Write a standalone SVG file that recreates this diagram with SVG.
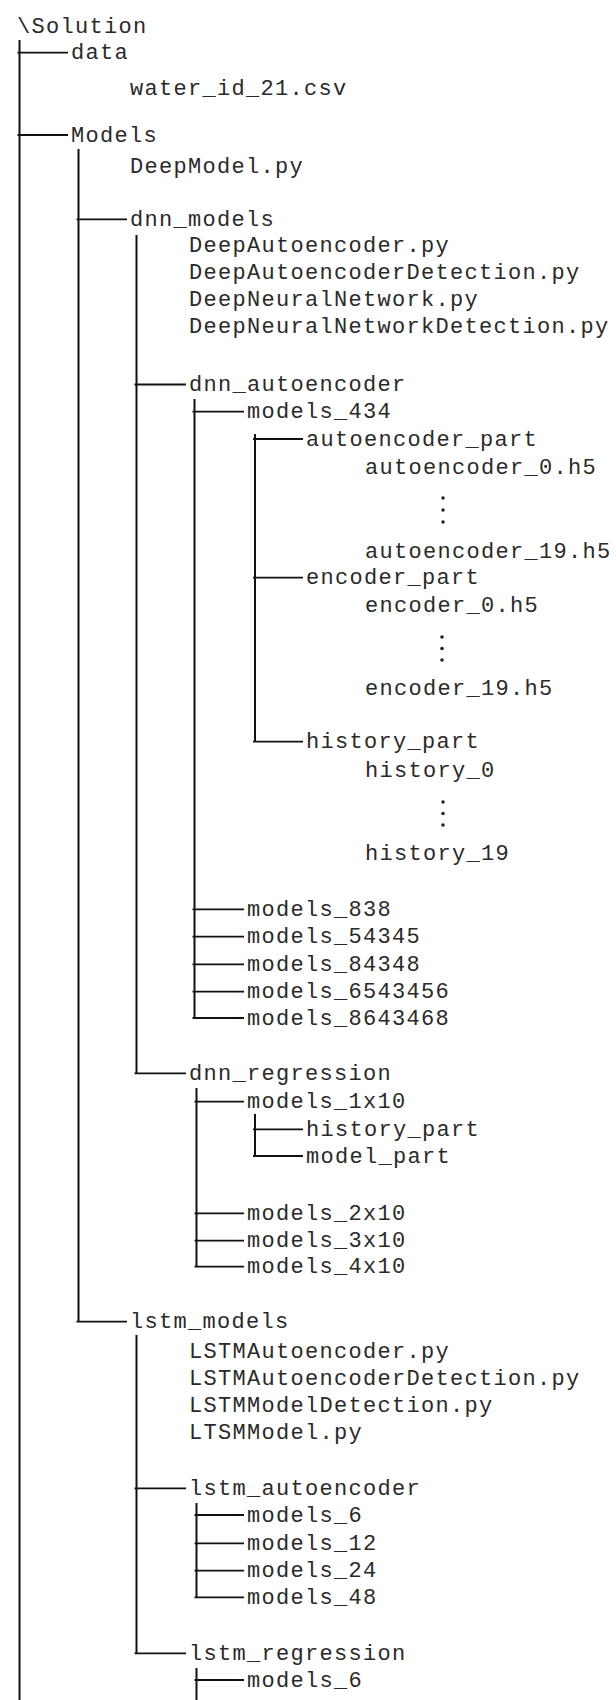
<svg xmlns="http://www.w3.org/2000/svg" width="616" height="1700" viewBox="0 0 616 1700">
<style>
.t{font-family:"Liberation Mono","Courier New",monospace;font-size:22px;letter-spacing:1.3px;fill:#2a2a2a}
.v{stroke:#111;stroke-width:2;fill:none}
.h{stroke:#111;stroke-width:1.8;fill:none}
.d{fill:#222}
</style>
<rect width="616" height="1700" fill="#fff"/>
<g id="connectors">
<line class="v" x1="19.5" y1="40" x2="19.5" y2="1700"/>
<line class="v" x1="78.5" y1="149" x2="78.5" y2="1322"/>
<line class="v" x1="136.5" y1="235" x2="136.5" y2="1073.5"/>
<line class="v" x1="194.5" y1="399" x2="194.5" y2="1018"/>
<line class="v" x1="255" y1="434" x2="255" y2="742"/>
<line class="v" x1="196.5" y1="1088" x2="196.5" y2="1267"/>
<line class="v" x1="255" y1="1114" x2="255" y2="1156"/>
<line class="v" x1="136.5" y1="1335" x2="136.5" y2="1653.5"/>
<line class="v" x1="196.5" y1="1503" x2="196.5" y2="1597.5"/>
<line class="v" x1="196.5" y1="1668" x2="196.5" y2="1700"/>
<line class="h" x1="17.5" y1="52.7" x2="68" y2="52.7"/>
<line class="h" x1="17.5" y1="135" x2="68" y2="135"/>
<line class="h" x1="76.5" y1="219.3" x2="127" y2="219.3"/>
<line class="h" x1="134.5" y1="384.5" x2="186" y2="384.5"/>
<line class="h" x1="192.5" y1="411.7" x2="244" y2="411.7"/>
<line class="h" x1="253" y1="439" x2="303" y2="439"/>
<line class="h" x1="253" y1="577.7" x2="303" y2="577.7"/>
<line class="h" x1="253" y1="741.7" x2="303" y2="741.7"/>
<line class="h" x1="192.5" y1="909.3" x2="244" y2="909.3"/>
<line class="h" x1="192.5" y1="936.7" x2="244" y2="936.7"/>
<line class="h" x1="192.5" y1="964.3" x2="244" y2="964.3"/>
<line class="h" x1="192.5" y1="991.7" x2="244" y2="991.7"/>
<line class="h" x1="192.5" y1="1018" x2="244" y2="1018"/>
<line class="h" x1="134.5" y1="1073.3" x2="186" y2="1073.3"/>
<line class="h" x1="194.5" y1="1101.7" x2="244" y2="1101.7"/>
<line class="h" x1="253" y1="1129.3" x2="303" y2="1129.3"/>
<line class="h" x1="253" y1="1156" x2="303" y2="1156"/>
<line class="h" x1="194.5" y1="1213.3" x2="244" y2="1213.3"/>
<line class="h" x1="194.5" y1="1240.7" x2="244" y2="1240.7"/>
<line class="h" x1="194.5" y1="1266.7" x2="244" y2="1266.7"/>
<line class="h" x1="76.5" y1="1321.7" x2="127" y2="1321.7"/>
<line class="h" x1="134.5" y1="1488.3" x2="186" y2="1488.3"/>
<line class="h" x1="194.5" y1="1515" x2="244" y2="1515"/>
<line class="h" x1="194.5" y1="1543.3" x2="244" y2="1543.3"/>
<line class="h" x1="194.5" y1="1570.7" x2="244" y2="1570.7"/>
<line class="h" x1="194.5" y1="1597.3" x2="244" y2="1597.3"/>
<line class="h" x1="134.5" y1="1653.3" x2="186" y2="1653.3"/>
<line class="h" x1="194.5" y1="1680" x2="244" y2="1680"/>
</g>
<g id="n-solution"><text class="t" x="17" y="33">\Solution</text></g>
<g id="n-data"><text class="t" x="71" y="59.3">data</text></g>
<g id="n-water"><text class="t" x="130" y="94.5">water_id_21.csv</text></g>
<g id="n-models"><text class="t" x="71" y="141.7">Models</text></g>
<g id="n-deepmodel"><text class="t" x="130" y="173">DeepModel.py</text></g>
<g id="n-dnn-models"><text class="t" x="130" y="226">dnn_models</text></g>
<g id="n-dnn-files">
<text class="t" x="189" y="252">DeepAutoencoder.py</text>
<text class="t" x="189" y="279">DeepAutoencoderDetection.py</text>
<text class="t" x="189" y="306">DeepNeuralNetwork.py</text>
<text class="t" x="189" y="333">DeepNeuralNetworkDetection.py</text>
</g>
<g id="n-dnn-autoencoder"><text class="t" x="189" y="391">dnn_autoencoder</text></g>
<g id="n-models-434"><text class="t" x="247" y="418">models_434</text></g>
<g id="n-autoencoder-part">
<text class="t" x="306" y="445.5">autoencoder_part</text>
<text class="t" x="365" y="473.5">autoencoder_0.h5</text>
<circle class="d" cx="443" cy="498" r="1.8"/><circle class="d" cx="443" cy="510" r="1.8"/><circle class="d" cx="443" cy="522" r="1.8"/>
<text class="t" x="365" y="557.5">autoencoder_19.h5</text>
</g>
<g id="n-encoder-part">
<text class="t" x="306" y="584">encoder_part</text>
<text class="t" x="365" y="611.5">encoder_0.h5</text>
<circle class="d" cx="442" cy="637" r="1.8"/><circle class="d" cx="442" cy="648.5" r="1.8"/><circle class="d" cx="442" cy="660" r="1.8"/>
<text class="t" x="365" y="694.5">encoder_19.h5</text>
</g>
<g id="n-history-part">
<text class="t" x="306" y="748">history_part</text>
<text class="t" x="365" y="776.5">history_0</text>
<circle class="d" cx="443" cy="802" r="1.8"/><circle class="d" cx="443" cy="813.5" r="1.8"/><circle class="d" cx="443" cy="825" r="1.8"/>
<text class="t" x="365" y="859.5">history_19</text>
</g>
<g id="n-models-838"><text class="t" x="247" y="916">models_838</text></g>
<g id="n-models-54345"><text class="t" x="247" y="943">models_54345</text></g>
<g id="n-models-84348"><text class="t" x="247" y="971">models_84348</text></g>
<g id="n-models-6543456"><text class="t" x="247" y="998">models_6543456</text></g>
<g id="n-models-8643468"><text class="t" x="247" y="1024.5">models_8643468</text></g>
<g id="n-dnn-regression"><text class="t" x="189" y="1080">dnn_regression</text></g>
<g id="n-models-1x10"><text class="t" x="247" y="1108">models_1x10</text></g>
<g id="n-history-part-2"><text class="t" x="306" y="1136">history_part</text></g>
<g id="n-model-part"><text class="t" x="306" y="1162.5">model_part</text></g>
<g id="n-models-2x10"><text class="t" x="247" y="1220">models_2x10</text></g>
<g id="n-models-3x10"><text class="t" x="247" y="1247">models_3x10</text></g>
<g id="n-models-4x10"><text class="t" x="247" y="1273">models_4x10</text></g>
<g id="n-lstm-models"><text class="t" x="130" y="1328">lstm_models</text></g>
<g id="n-lstm-files">
<text class="t" x="189" y="1358">LSTMAutoencoder.py</text>
<text class="t" x="189" y="1385">LSTMAutoencoderDetection.py</text>
<text class="t" x="189" y="1412">LSTMModelDetection.py</text>
<text class="t" x="189" y="1439">LTSMModel.py</text>
</g>
<g id="n-lstm-autoencoder"><text class="t" x="189" y="1495">lstm_autoencoder</text></g>
<g id="n-la-models-6"><text class="t" x="247" y="1521.5">models_6</text></g>
<g id="n-la-models-12"><text class="t" x="247" y="1550">models_12</text></g>
<g id="n-la-models-24"><text class="t" x="247" y="1577">models_24</text></g>
<g id="n-la-models-48"><text class="t" x="247" y="1604">models_48</text></g>
<g id="n-lstm-regression"><text class="t" x="189" y="1660">lstm_regression</text></g>
<g id="n-lr-models-6"><text class="t" x="247" y="1686.5">models_6</text></g>
</svg>
